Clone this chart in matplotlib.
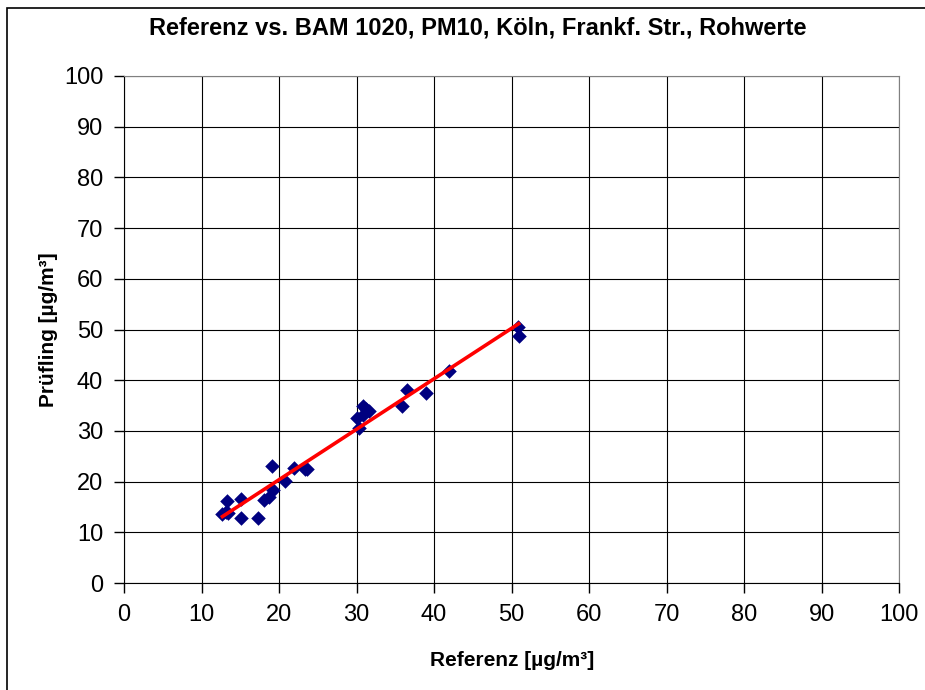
import numpy as np
import matplotlib
matplotlib.use("Agg")
import matplotlib.pyplot as plt
from matplotlib.patches import Rectangle

plt.rcParams['font.family'] = ['Liberation Sans', 'DejaVu Sans']

referenz = [12.7, 13.1, 13.4, 13.3, 15.1, 15.1, 17.3, 18.1, 18.7, 19.2, 19.1,
            20.8, 21.9, 23.4, 23.6, 30.1, 30.3, 30.8, 31.2, 30.8, 31.6,
            35.9, 36.5, 39.0, 41.9, 50.8, 50.9]
pruefling = [13.6, 14.1, 13.8, 16.2, 16.6, 12.9, 12.9, 16.4, 17.0, 18.3, 23.1,
             20.1, 22.7, 22.5, 22.5, 32.6, 30.5, 35.0, 34.4, 33.2, 34.0,
             35.0, 38.1, 37.5, 41.8, 50.4, 48.8]

ticks = list(range(0, 101, 10))

fig = plt.figure(figsize=(9.25, 6.9), dpi=100)
ax = fig.add_axes([124 / 925, 1 - 583 / 690, (899.3 - 124) / 925, (583 - 76) / 690])

# Regression
x = np.array(referenz)
y = np.array(pruefling)
m, b = np.polyfit(x, y, 1)
xl = np.array([x.min(), x.max()])

ax.scatter(x, y, marker='D', s=55, color='#000080', zorder=3, linewidths=0)
ax.plot(xl, m * xl + b, color='#ff0000', lw=2.6, zorder=4)

ax.set_xlim(0, 100)
ax.set_ylim(0, 100)
ax.set_xticks(ticks)
ax.set_yticks(ticks)
ax.grid(True, color='#000000', lw=0.8)
ax.set_axisbelow(True)
ax.tick_params(direction='out', length=7, width=1, labelsize=17, pad=8)
for s in ['left', 'bottom']:
    ax.spines[s].set_color('black')
for s in ['top', 'right']:
    ax.spines[s].set_color('#808080')

fig.text(478 / 925, 1 - 28 / 690,
         'Referenz vs. BAM 1020, PM10, Köln, Frankf. Str., Rohwerte',
         fontsize=17, fontweight='bold', ha='center', va='center')
ax.set_xlabel('Referenz [µg/m³]', fontsize=15, fontweight='bold', labelpad=18)
ax.set_ylabel('Prüfling [µg/m³]', fontsize=15, fontweight='bold', labelpad=4)

# Rahmen um das Diagramm
fig.patches.append(Rectangle((7 / 925, -0.1), 1.2, 1 - 8 / 690 + 0.1,
                             transform=fig.transFigure, fill=False,
                             edgecolor='black', lw=1.2))

fig.savefig('out.png', dpi=100)
